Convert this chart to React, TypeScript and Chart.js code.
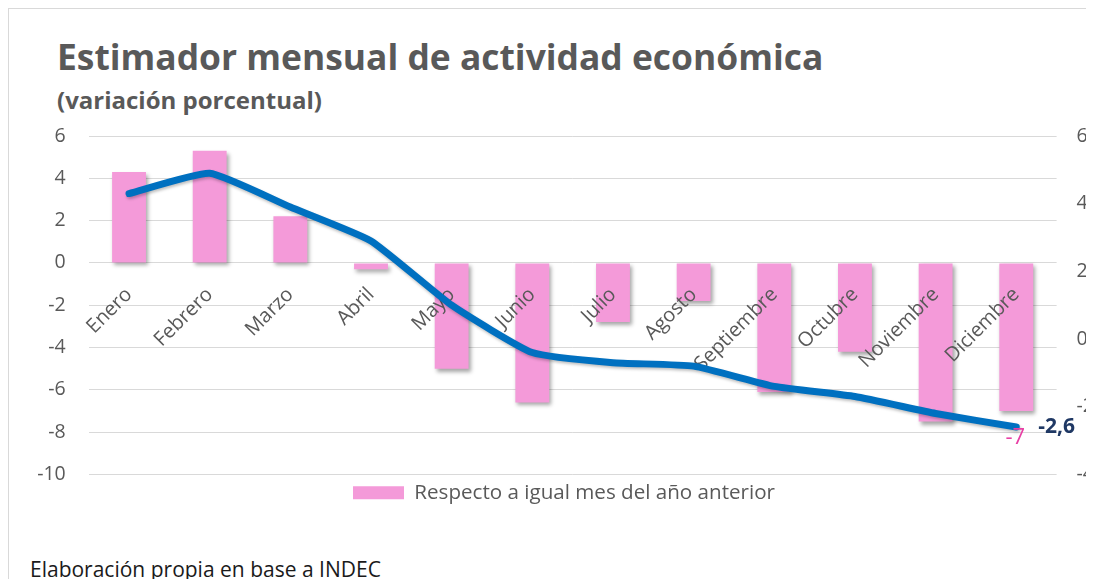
import React, { useEffect, useRef } from "react";
import { Chart, registerables } from "chart.js";

Chart.register(...registerables);

const months = ["Enero", "Febrero", "Marzo", "Abril", "Mayo", "Junio", "Julio", "Agosto", "Septiembre", "Octubre", "Noviembre", "Diciembre"];
const interanual = [4.3, 5.3, 2.2, -0.3, -5.0, -6.6, -2.8, -1.8, -6.1, -4.2, -7.5, -7.0];
const acumulado = [4.3, 4.9, 3.9, 2.9, 1.0, -0.4, -0.7, -0.8, -1.4, -1.7, -2.2, -2.6];
const barLabel = "Respecto a igual mes del año anterior";
const lineLabel = "Acumulado del año";
const lastBarText = "-7";
const lastLineText = "-2,6";

const FONT = "'Open Sans', 'Noto Sans', sans-serif";
const GRAY = "#595959";
const PINK = "#f49ad9";
const BLUE = "#0070c0";

export default function App() {
  const ref = useRef<HTMLCanvasElement | null>(null);

  useEffect(() => {
    if (!ref.current) return;
    const shadowPlugin = {
      id: "shadows",
      beforeDatasetDraw(chart: any, args: any) {
        if (args.index === 1) return false;
        const ctx = chart.ctx;
        ctx.save();
        ctx.shadowColor = "rgba(0,0,0,0.35)";
        ctx.shadowBlur = 4;
        ctx.shadowOffsetX = 2;
        ctx.shadowOffsetY = 3;
      },
      afterDatasetDraw(chart: any, args: any) {
        if (args.index === 1) return;
        chart.ctx.restore();
      },
    };
    const labelPlugin = {
      id: "endLabels",
      afterDraw(chart: any) {
        const ctx = chart.ctx;
        const barMeta = chart.getDatasetMeta(0);
        const lineMeta = chart.getDatasetMeta(1);
        // draw the line on top of the category labels
        ctx.save();
        ctx.shadowColor = "rgba(0,0,0,0.25)";
        ctx.shadowBlur = 3;
        ctx.shadowOffsetX = 1;
        ctx.shadowOffsetY = 2;
        lineMeta.controller.draw();
        ctx.restore();
        const n = months.length - 1;
        const bar = barMeta.data[n];
        const pt = lineMeta.data[n];
        ctx.save();
        ctx.font = `22px ${FONT}`;
        ctx.fillStyle = "#e83fa5";
        ctx.textAlign = "center";
        ctx.textBaseline = "middle";
        ctx.fillText(lastBarText, bar.x - 1, bar.y + 27);
        ctx.font = `bold 21px ${FONT}`;
        ctx.fillStyle = "#1f3864";
        ctx.textAlign = "left";
        ctx.fillText(lastLineText, pt.x + 22, pt.y);
        ctx.restore();
      },
    };
    const chart = new Chart(ref.current, {
      type: "bar",
      data: {
        labels: months,
        datasets: [
          {
            type: "bar",
            label: barLabel,
            data: interanual,
            backgroundColor: PINK,
            borderWidth: 0,
            categoryPercentage: 1,
            barPercentage: 0.42,
            yAxisID: "y",
            order: 2,
          },
          {
            type: "line",
            label: lineLabel,
            data: acumulado,
            borderColor: BLUE,
            borderWidth: 7,
            pointRadius: 0,
            tension: 0.15,
            borderCapStyle: "round",
            borderJoinStyle: "round",
            fill: false,
            yAxisID: "y1",
            order: 1,
          } as any,
        ],
      },
      options: {
        animation: false,
        responsive: false,
        maintainAspectRatio: false,
        layout: { padding: { top: 128, bottom: 0, left: 0, right: 0 } },
        plugins: {
          tooltip: { enabled: false },
          legend: {
            position: "bottom",
            labels: {
              filter: (item: any) => item.datasetIndex === 0,
              boxWidth: 51,
              boxHeight: 13,
              color: GRAY,
              font: { family: FONT, size: 20.6 },
              padding: 8,
            },
          },
        },
        scales: {
          x: {
            position: { y: 0 } as any,
            grid: { display: false, drawTicks: false },
            border: { display: false },
            ticks: {
              z: 1,
              minRotation: 45,
              maxRotation: 45,
              color: GRAY,
              font: { family: FONT, size: 20 },
              padding: 20,
              autoSkip: false,
            },
          },
          y: {
            position: "left",
            min: -10,
            max: 6,
            afterFit: (s: any) => {
              s.width = 80.7;
            },
            grid: { color: "#d9d9d9", lineWidth: 1, drawTicks: false },
            border: { display: false },
            ticks: {
              stepSize: 2,
              color: GRAY,
              font: { family: FONT, size: 19.5 },
              padding: 23,
            },
          },
          y1: {
            position: "right",
            min: -4,
            max: 6,
            afterFit: (s: any) => {
              s.width = 1112 - 1048.6;
            },
            grid: { display: false, drawTicks: false },
            border: { display: false },
            ticks: {
              stepSize: 2,
              color: GRAY,
              font: { family: FONT, size: 19.5 },
              padding: 20,
            },
          },
        },
      },
      plugins: [shadowPlugin, labelPlugin],
    });
    return () => chart.destroy();
  }, []);

  return (
    <div style={{ position: "relative", width: 1086, height: 571, overflow: "hidden", background: "#fff" }}>
      <div style={{ position: "absolute", left: 0, top: 0, width: 2000, height: 2000, borderLeft: "1px solid #d9d9d9", borderTop: "1px solid #d9d9d9" }} />
      <div style={{ position: "absolute", left: 49, top: 24, fontFamily: FONT, fontWeight: 700, fontSize: 35.4, color: GRAY, whiteSpace: "nowrap", lineHeight: "48px" }}>
        Estimador mensual de actividad económica
      </div>
      <div style={{ position: "absolute", left: 49, top: 76, fontFamily: FONT, fontWeight: 700, fontSize: 24, color: GRAY, whiteSpace: "nowrap", lineHeight: "32px" }}>
        (variación porcentual)
      </div>
      <canvas ref={ref} width={1112} height={505} style={{ position: "absolute", left: 0, top: 0, width: 1112, height: 505 }} />
      <div style={{ position: "absolute", left: 22, top: 547, fontFamily: FONT, fontSize: 21, color: "#1a1a1a", whiteSpace: "nowrap", lineHeight: "28px" }}>
        Elaboración propia en base a INDEC
      </div>
    </div>
  );
}
